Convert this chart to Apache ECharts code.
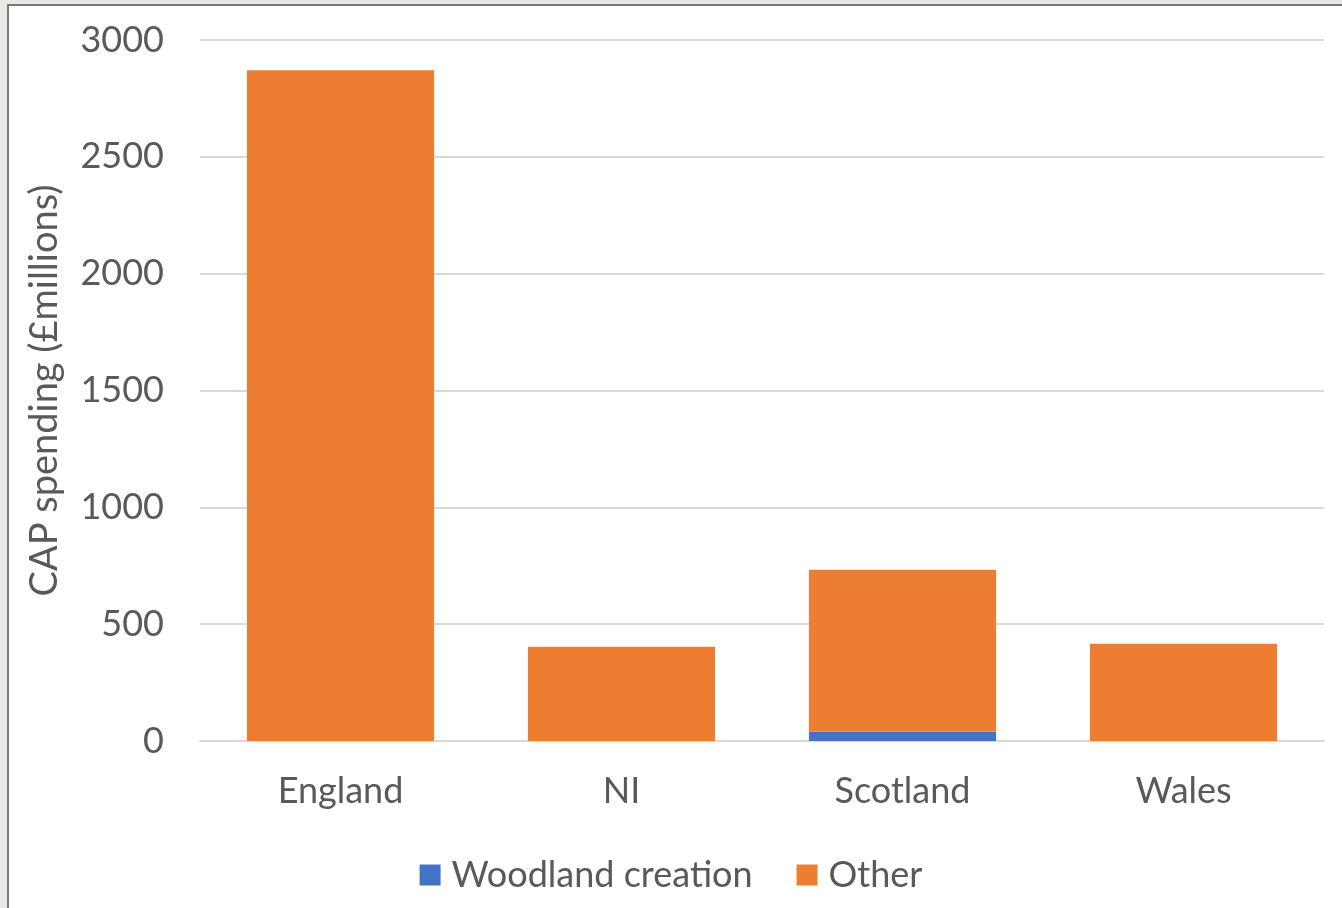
<!DOCTYPE html>
<html>
<head>
<meta charset="utf-8">
<script src="https://cdn.jsdelivr.net/npm/echarts@6/dist/echarts.min.js"></script>
<style>
  html, body { margin: 0; padding: 0; background: #e7ebe3; }
  #chart { width: 1342px; height: 908px; }
</style>
</head>
<body>
<div id="chart"></div>
<script>
// CAP spending by UK nation, £ millions
const categories = ['England', 'NI', 'Scotland', 'Wales'];
const woodlandCreation = [0, 0, 40, 0];
const other = [2871, 403, 693, 416];
const yTicks = { min: 0, max: 3000, interval: 500 };

const textColor = '#595959';
const fontFamily = 'Lato, "Open Sans", sans-serif';

const chart = echarts.init(document.getElementById('chart'), null, { renderer: 'canvas' });

chart.setOption({
  backgroundColor: 'transparent',
  animation: false,
  graphic: [
    {
      type: 'rect',
      z: -10,
      shape: { x: 8, y: 5, width: 1400, height: 1000 },
      style: { fill: '#ffffff', stroke: '#747889', lineWidth: 2 }
    }
  ],
  grid: { left: 200, right: 18, top: 40, bottom: 167, containLabel: false },
  legend: {
    bottom: 10,
    left: 'center',
    itemWidth: 21,
    itemHeight: 21,
    itemGap: 44,
    icon: 'rect',
    textStyle: { color: textColor, fontSize: 36, fontFamily: fontFamily, padding: [0, 0, 0, 6] },
    data: ['Woodland creation', 'Other']
  },
  xAxis: {
    type: 'category',
    data: categories,
    axisLine: { show: true, lineStyle: { color: '#d9d9d9', width: 2 } },
    axisTick: { show: false },
    axisLabel: { color: textColor, fontSize: 36, fontFamily: fontFamily, margin: 32 }
  },
  yAxis: {
    type: 'value',
    min: yTicks.min,
    max: yTicks.max,
    interval: yTicks.interval,
    name: 'CAP spending (£millions)',
    nameLocation: 'middle',
    nameGap: 136,
    nameTextStyle: { color: textColor, fontSize: 38, fontFamily: fontFamily },
    axisLine: { show: false },
    axisTick: { show: false },
    axisLabel: {
      color: textColor, fontSize: 36, fontFamily: fontFamily, margin: 36,
      formatter: (v) => String(v)
    },
    splitLine: { lineStyle: { color: '#d9d9d9', width: 2 } }
  },
  series: [
    {
      name: 'Woodland creation',
      type: 'bar',
      stack: 'total',
      barWidth: '66.6%',
      itemStyle: { color: '#4472c4' },
      data: woodlandCreation
    },
    {
      name: 'Other',
      type: 'bar',
      stack: 'total',
      barWidth: '66.6%',
      itemStyle: { color: '#ed7d31' },
      data: other
    }
  ]
});
</script>
</body>
</html>
